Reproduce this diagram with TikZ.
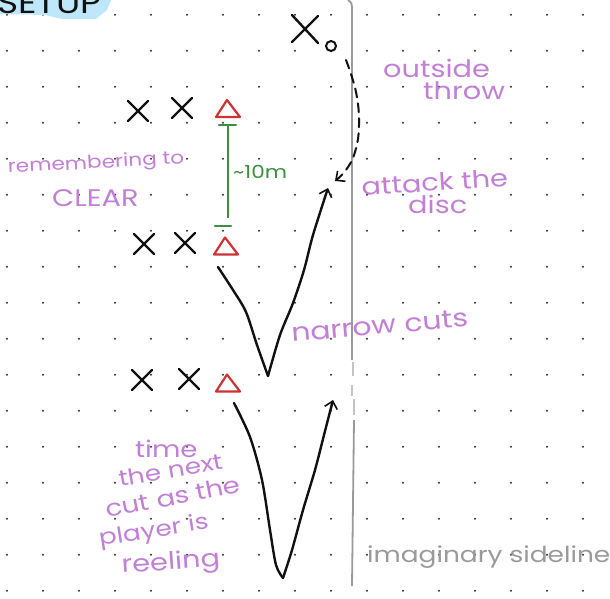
\documentclass[tikz,border=0pt]{standalone}
\usepackage{fontspec}
\setmainfont{Poppins}
\newfontfamily\hand[FakeStretch=1.2]{Poppins}
\usetikzlibrary{arrows.meta}
\definecolor{ink}{HTML}{111111}
\definecolor{lav}{HTML}{C27FD6}
\definecolor{redt}{HTML}{CC3333}
\definecolor{grn}{HTML}{3A9140}
\definecolor{side}{HTML}{9A9A9A}
\definecolor{sideL}{HTML}{C4C4C4}
\definecolor{sky}{HTML}{BEE7FB}
\definecolor{dotc}{HTML}{333333}
\begin{document}
\begin{tikzpicture}[x=1pt,y=-1pt,
  hw/.style={font=\hand\fontsize{#1}{#1}\selectfont, text=lav, inner sep=0pt},
  cut/.style={draw=ink, line width=2.4pt, line cap=round, line join=round},
  tipb/.style={-{Straight Barb[length=7pt,width=13pt,line width=1.6pt]}},
  xmark/.pic={\draw[ink, line width=2.4pt, line cap=round] (-10,-10) -- (10,10) (10,-10) -- (-10,10);},
  tri/.pic={\draw[redt, line width=2.2pt, line join=round] (-1,-8.5) -- (12,8.5) -- (-12,8.5) -- cycle;}
]
\useasboundingbox (0,0) rectangle (610,598);
\clip (0,0) rectangle (610,598);
% dot grid
\foreach \i in {0,...,16} \foreach \j in {0,...,16}
  \fill[dotc] ({7+36*\i},{14.7+36*\j}) circle (1.1);
% title blob
\fill[sky] (0,0) -- (111,0) -- (107,10) -- (96,19) -- (62,19) -- (45,15) -- (0,14) -- cycle;
\node[font=\hand\fontsize{30}{30}\selectfont, text=ink, anchor=base west, inner sep=0pt] (title) at (-3,13) {SETUP};
% sideline
\draw[side, line width=1.8pt] (348,0) .. controls (352,3) .. (352,12) -- (352,360);
\draw[sideL, line width=1.8pt] (353,362) -- (353,376) (352,385) -- (352,396) (354,399) -- (354,415);
\draw[side, line width=1.8pt] (354,420) -- (352,586);
% players
\pic at (138,111) {xmark}; \pic at (182,108) {xmark}; \pic at (228,108.5) {tri};
\pic at (144,244) {xmark}; \pic at (185,243) {xmark}; \pic at (226,246) {tri};
\pic at (142,380) {xmark}; \pic at (189,379) {xmark}; \pic at (228,383) {tri};
% thrower and disc
\draw[ink, line width=2.4pt, line cap=round] (292,15) -- (318,43) (318,16) -- (292,42);
\node[draw=ink, line width=2pt, circle, minimum size=10pt, inner sep=0pt] (disc) at (331,46) {};
% dashed throw
\coordinate (ds) at (346,60);
\coordinate (de) at (335,181);
\draw[ink, line width=2pt, dash pattern=on 9pt off 6pt, line cap=round, tipb]
  plot[smooth, tension=0.7] coordinates {(ds) (356,92) (359,125) (355,152) (346,170) (de)};
% distance marker
\coordinate (gt) at (228,126); \coordinate (gb) at (228,218);
\draw[grn, line width=2.4pt] (gt) -- (gb);
\draw[grn, line width=2.4pt, line cap=round] (219,125) -- (236,125) (215,226) -- (231,226);
\node[hw=18, text=grn, anchor=base west] (dist) at (233,178) {\char"007E 10m};
% cut 1
\coordinate (c1s) at (218,267); \coordinate (c1v) at (268,376); \coordinate (c1e) at (328,188);
\draw[cut] plot[smooth, tension=0.5] coordinates {(c1s) (233,290) (246,312) (257,345) (c1v)};
\draw[cut, tipb] plot[smooth, tension=0.5] coordinates {(c1v) (280,335) (293,303) (304,270) (313,235) (c1e)};
% cut 2
\coordinate (c2s) at (234,403); \coordinate (c2v) at (283,578); \coordinate (c2e) at (333,400);
\draw[cut] plot[smooth, tension=0.5] coordinates {(c2s) (250,437) (262,480) (270,530) (276,565) (c2v)};
\draw[cut, tipb] plot[smooth, tension=0.5] coordinates {(c2v) (292,550) (303,510) (315,470) (324,435) (c2e)};
% labels
\node[hw=24, anchor=base west] (t1) at (383,77) {outside};
\node[hw=24, anchor=base west] (t2) at (423,99) {throw};
\node[hw=24, anchor=base west, rotate=4] (t3) at (362,196) {attack the};
\node[hw=24, anchor=base west] (t4) at (408,213) {disc};
\node[hw=18, anchor=base west, rotate=3] (t5) at (8,173) {remembering to};
\node[hw=24, anchor=base west] (t6) at (52,206) {CLEAR};
\node[hw=25, anchor=base west, rotate=5] (t7) at (292,342) {narrow cuts};
\node[hw=23, anchor=base west] (t8) at (135,457) {time};
\node[hw=22, anchor=base west, rotate=10] (t9) at (120,487) {the next};
\node[hw=23, anchor=base west, rotate=11] (t10) at (107,518) {cut as the};
\node[hw=22, anchor=base west, rotate=9] (t11) at (100,546) {player is};
\node[hw=24, anchor=base west, rotate=4] (t12) at (122,573) {reeling};
\node[hw=22, text=side, anchor=base west] (t13) at (367,562) {imaginary sideline};
\end{tikzpicture}
\end{document}
